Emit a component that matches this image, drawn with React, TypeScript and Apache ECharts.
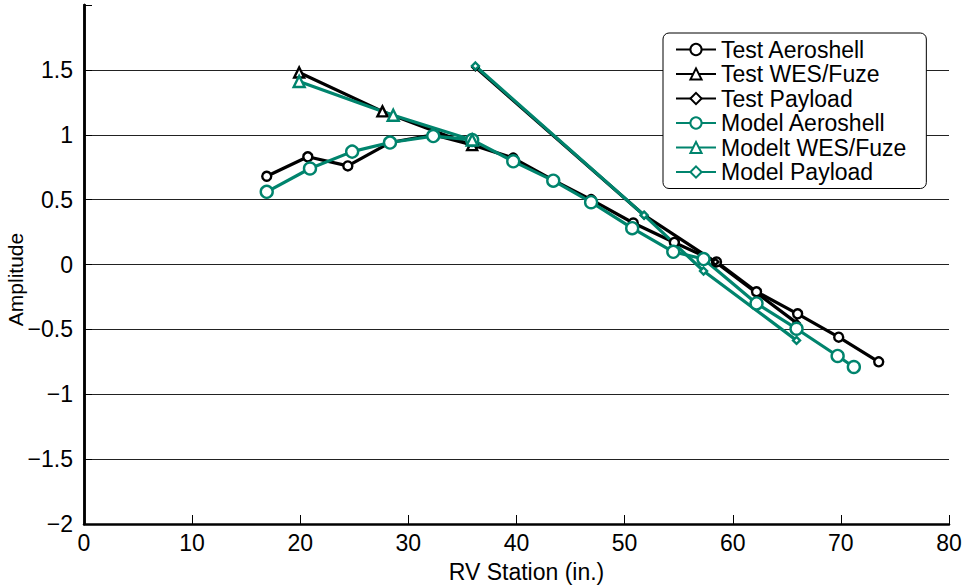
import React, { useEffect, useRef } from "react";
import * as echarts from "echarts";

const testAeroshell: [number, number][] = [
  [16.9, 0.68], [20.7, 0.83], [24.4, 0.76], [28.3, 0.94], [32.3, 1.0], [36.0, 0.92],
  [39.7, 0.82], [43.4, 0.65], [46.9, 0.5], [50.8, 0.32], [54.6, 0.17], [58.5, 0.02],
  [62.2, -0.21], [66.0, -0.38], [69.8, -0.56], [73.5, -0.75],
];
const testWesFuze: [number, number][] = [[19.9, 1.48], [27.6, 1.18], [35.9, 0.92]];
const testPayload: [number, number][] = [[36.2, 1.52], [51.8, 0.38], [58.4, 0.02], [65.9, -0.45]];
const modelAeroshell: [number, number][] = [
  [16.9, 0.56], [20.9, 0.74], [24.8, 0.87], [28.3, 0.94], [32.3, 0.99], [35.9, 0.96],
  [39.7, 0.795], [43.4, 0.646], [46.9, 0.48], [50.7, 0.28], [54.5, 0.098], [57.3, 0.042],
  [62.2, -0.3], [65.9, -0.495], [69.7, -0.705], [71.2, -0.79],
];
const modelWesFuze: [number, number][] = [[19.9, 1.41], [28.6, 1.15], [35.9, 0.96]];
const modelPayload: [number, number][] = [[36.2, 1.53], [51.8, 0.38], [57.3, -0.05], [65.9, -0.585]];

const seriesNames = [
  "Test Aeroshell", "Test WES/Fuze", "Test Payload",
  "Model Aeroshell", "Modelt WES/Fuze", "Model Payload",
];

const BLACK = "#000000";
const GREEN = "#00846d";
const FONT = "Liberation Sans, Arial, sans-serif";

function fmt(v: number): string {
  if (v === 2) return "";
  return v < 0 ? "\u2212" + String(Math.abs(v)) : String(v);
}

export default function App() {
  const ref = useRef<HTMLDivElement>(null);
  useEffect(() => {
    if (!ref.current) return;
    const chart = echarts.init(ref.current, null, { renderer: "svg" });
    const mk = (name: string, data: [number, number][], color: string, symbol: string, size: number) => ({
      name,
      type: "line",
      data,
      symbol,
      symbolSize: size,
      showAllSymbol: true,
      lineStyle: { color, width: 3.2 },
      itemStyle: { color: "#ffffff", borderColor: color, borderWidth: 2.4 },
      emphasis: { disabled: true },
    });
    chart.setOption({
      animation: false,
      backgroundColor: "#ffffff",
      textStyle: { fontFamily: FONT },
      grid: { left: 84, right: 22, top: 5, bottom: 61, containLabel: false, outerBoundsMode: "none" },
      legend: {
        orient: "vertical",
        left: 663,
        top: 33,
        padding: [5, 20, 5, 12],
        borderColor: "#000",
        borderWidth: 1,
        borderRadius: 6,
        backgroundColor: "#fff",
        itemWidth: 40,
        itemHeight: 14,
        itemGap: 1.5,
        textStyle: { fontSize: 23, color: "#000", fontFamily: FONT },
        data: seriesNames,
      },
      xAxis: {
        type: "value",
        min: 0,
        max: 80,
        interval: 10,
        name: "RV Station (in.)",
        nameLocation: "middle",
        nameGap: 36,
        nameMoveOverlap: false,
        nameTextStyle: { fontSize: 23, color: "#000", fontFamily: FONT, padding: [0, 0, 0, 20] },
        axisLine: { show: true, onZero: false, lineStyle: { color: "#000", width: 2.5 } },
        axisTick: { show: true, inside: true, length: 9, lineStyle: { color: "#000", width: 1 } },
        axisLabel: { fontSize: 23, color: "#000", margin: 7, fontFamily: FONT },
        splitLine: { show: false },
      },
      yAxis: [
        {
          type: "value",
          min: -2,
          max: 2,
          interval: 0.5,
          name: "Amplitude",
          nameLocation: "middle",
          nameGap: 58,
          nameMoveOverlap: false,
          nameTextStyle: { fontSize: 21, color: "#000", fontFamily: FONT, padding: [0, 30, 0, 0] },
          axisLine: { show: true, onZero: false, lineStyle: { color: "#000", width: 2.5 } },
          axisTick: { show: true, inside: true, length: 8, lineStyle: { color: "#000", width: 1 } },
          axisLabel: { fontSize: 23, color: "#000", margin: 11, formatter: fmt, fontFamily: FONT },
          splitLine: {
            show: true,
            lineStyle: {
              color: ["#000", "#222", "#222", "#222", "#222", "#222", "#222", "#222", "rgba(0,0,0,0)"],
              width: 1,
            },
          },
        },
        {
          type: "value",
          min: -2,
          max: 2,
          interval: 0.5,
          position: "right",
          axisLine: { show: true, lineStyle: { color: "#000", width: 2.5 } },
          axisTick: { show: false },
          axisLabel: { show: false },
          splitLine: { show: false },
        },
      ],
      series: [
        mk(seriesNames[0], testAeroshell, BLACK, "circle", 9),
        mk(seriesNames[1], testWesFuze, BLACK, "triangle", 10),
        mk(seriesNames[2], testPayload, BLACK, "diamond", 6),
        mk(seriesNames[3], modelAeroshell, GREEN, "circle", 12),
        mk(seriesNames[4], modelWesFuze, GREEN, "triangle", 11),
        mk(seriesNames[5], modelPayload, GREEN, "diamond", 7),
      ],
    });
    return () => chart.dispose();
  }, []);
  return (
    <div
      ref={ref}
      style={{ position: "fixed", left: 0, top: 0, width: 971, height: 585, background: "#fff" }}
    />
  );
}
